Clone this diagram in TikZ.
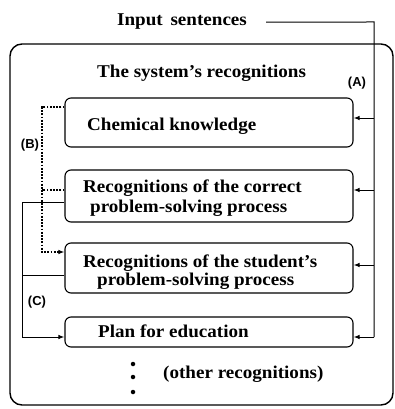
\documentclass[tikz,border=0pt]{standalone}
\usepackage{fontspec}
\setmainfont{Liberation Serif}[FakeStretch=1.06]
\newfontfamily\tagfont{Liberation Sans}
\usetikzlibrary{arrows.meta}
\begin{document}
\begin{tikzpicture}[x=1pt,y=-1pt,
  outerbox/.style={draw, line width=1.4pt, rounded corners=12pt, inner sep=0pt},
  box/.style={draw, line width=1.1pt, rounded corners=6pt, inner sep=0pt, minimum width=288pt},
  txt/.style={inner sep=0pt, anchor=base west, font=\fontsize{18}{20}\selectfont\bfseries},
  tag/.style={inner sep=0pt, font=\tagfont\fontsize{13}{15}\selectfont\bfseries},
  wire/.style={line width=1pt},
  tip/.style={-{Latex[length=6pt,width=4.5pt]}},
  dotline/.style={line width=1.8pt, dash pattern=on 1.8pt off 1.4pt},
  dot/.style={circle, fill, inner sep=0pt, minimum size=4.5pt}]
\useasboundingbox (0,0) rectangle (395,409);

% outer frame and the four recognition boxes
\node[outerbox, minimum width=383pt, minimum height=361pt] (sys) at (201.5,224.5) {};
\node[box, minimum height=49pt] (chem) at (209,122.5) {};
\node[box, minimum height=52pt] (correct) at (209,196) {};
\node[box, minimum height=50pt] (student) at (209,268) {};
\node[box, minimum height=30pt] (plan) at (209,332) {};

% texts
\node[txt] (input) at (117,26) {Input\, sentences};
\node[txt] (title) at (97,78) {The system’s recognitions};
\node[txt] (chemtxt) at (87,130) {Chemical knowledge};
\node[txt] (correcta) at (83,192) {Recognitions of the correct};
\node[txt] (correctb) at (90,212) {problem-solving process};
\node[txt] (studenta) at (83,267) {Recognitions of the student’s};
\node[txt] (studentb) at (97,285) {problem-solving process};
\node[txt] (plantxt) at (98,337) {Plan for education};
\node[txt] (other) at (163,378) {(other recognitions)};

\node[tag] (tagA) at (357,83) {(A)};
\node[tag] (tagB) at (30,145) {(B)};
\node[tag] (tagC) at (37,302) {(C)};

\node[dot] (dot1) at (133,364) {};
\node[dot] (dot2) at (133,377) {};
\node[dot] (dot3) at (133,392) {};

% connection points on the boxes
\coordinate (chemin) at ([yshift=4.5pt]chem.east);
\coordinate (correctin) at ([yshift=6pt]correct.east);
\coordinate (studentin) at ([yshift=3pt]student.east);
\coordinate (planin) at ([yshift=-5pt]plan.east);
\coordinate (correctout) at ([yshift=-6pt]correct.west);
\coordinate (studentout) at ([yshift=-7pt]student.west);
\coordinate (planleft) at ([yshift=-5pt]plan.west);
\coordinate (chemleft) at ([yshift=15.5pt]chem.west);
\coordinate (correctleft) at ([yshift=6pt]correct.west);
\coordinate (studentleft) at ([yshift=16pt]student.west);

% bus lines
\coordinate (bustop) at (374,22);
\coordinate (cbus) at (22,0);
\coordinate (bbus) at (42,0);

% (A) input sentences to every recognition
\draw[wire] ([xshift=19pt]input.east) -- (bustop) -- (planin -| bustop);
\draw[wire,tip] (chemin -| bustop) -- (chemin);
\draw[wire,tip] (correctin -| bustop) -- (correctin);
\draw[wire,tip] (studentin -| bustop) -- (studentin);
\draw[wire,tip] (planin -| bustop) -- (planin);

% (B) dotted link
\draw[dotline,tip] (chemleft) -- (chemleft -| bbus) -- (studentleft -| bbus) -- (studentleft);
\draw[dotline] (correctleft) -- (correctleft -| bbus);

% (C) feed into the plan
\draw[wire,tip] (correctout) -- (correctout -| cbus) -- (planleft -| cbus) -- (planleft);
\draw[wire] (studentout) -- (studentout -| cbus);
\end{tikzpicture}
\end{document}
